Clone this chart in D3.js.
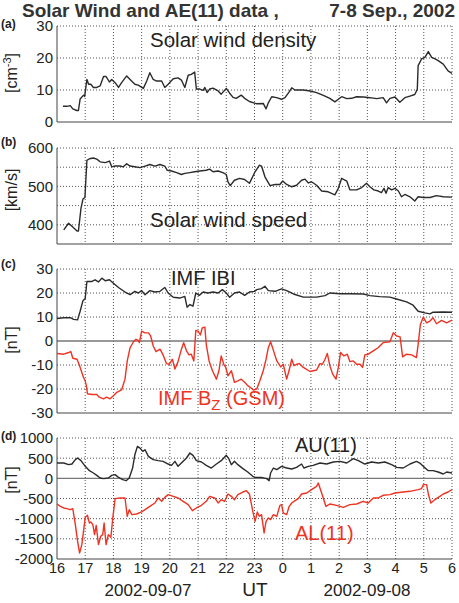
<!DOCTYPE html>
<html>
<head>
<meta charset="utf-8">
<script src="https://cdn.jsdelivr.net/npm/d3@7"></script>
<style>
  body { margin: 0; background: #fff; }
  svg { display: block; font-family: "Liberation Sans", Arial, Helvetica, sans-serif; }
</style>
</head>
<body>
<svg id="chart" width="459" height="603"></svg>
<script>
// DATA  (time in hours UT from 16 on 2002-09-07; 24+ = 2002-09-08)
const hourTicks = [16, 17, 18, 19, 20, 21, 22, 23, 24, 25, 26, 27, 28, 29, 30];

const density = [[16.21,4.9],[16.35,4.9],[16.47,5.1],[16.56,4.1],[16.7,3.6],[16.76,3.6],[16.82,7.2],[16.94,8.4],[16.98,8.0],[17.06,13.3],[17.12,11.8],[17.2,11.8],[17.29,10.8],[17.41,10.8],[17.53,11.3],[17.65,14.2],[17.74,14.2],[17.86,12.5],[17.94,13.3],[18.06,12.3],[18.18,10.8],[18.29,12.3],[18.47,14.4],[18.59,13.3],[18.76,11.8],[18.88,11.5],[19.06,10.5],[19.18,12.8],[19.29,15.4],[19.41,13.3],[19.53,12.8],[19.71,12.8],[19.82,10.8],[19.94,11.8],[20.12,13.5],[20.29,13.8],[20.41,13.1],[20.53,10.8],[20.65,14.6],[20.76,14.9],[20.88,15.6],[20.94,10.3],[21.06,10.3],[21.18,9.9],[21.24,10.8],[21.32,9.2],[21.41,10.3],[21.53,10.6],[21.71,9.7],[21.82,8.7],[22.0,10.5],[22.12,9.0],[22.24,7.7],[22.35,7.4],[22.53,8.4],[22.65,7.4],[22.82,6.4],[23.0,5.9],[23.08,5.7],[23.31,5.8],[23.41,4.1],[23.49,6.0],[23.61,7.9],[23.78,7.6],[23.96,7.1],[24.08,7.6],[24.23,9.4],[24.32,10.7],[24.43,10.0],[24.73,10.0],[24.97,9.7],[25.2,9.2],[25.44,8.3],[25.67,7.4],[25.85,6.3],[25.97,7.1],[26.09,7.9],[26.27,7.3],[26.44,7.4],[26.62,7.9],[26.86,7.8],[27.09,7.6],[27.33,7.3],[27.56,7.6],[27.68,6.0],[27.8,7.4],[27.98,7.8],[28.15,6.2],[28.33,7.6],[28.51,8.1],[28.68,8.6],[28.77,10.2],[28.8,17.6],[28.92,19.7],[29.04,20.2],[29.16,22.0],[29.28,20.2],[29.4,19.7],[29.51,19.2],[29.69,18.1],[29.86,16.0],[30.0,15.2]];

const speed = [[16.24,387],[16.41,404],[16.53,396],[16.71,384],[16.76,384],[16.85,443],[16.92,467],[16.99,471],[17.06,568],[17.15,572],[17.29,574],[17.41,571],[17.53,564],[17.71,562],[17.86,566],[17.94,551],[18.06,553],[18.24,553],[18.35,551],[18.47,559],[18.59,553],[18.76,551],[18.94,549],[19.12,553],[19.29,557],[19.47,553],[19.65,557],[19.82,553],[19.91,542],[20.06,540],[20.24,536],[20.41,531],[20.53,534],[20.71,536],[20.88,538],[21.06,540],[21.29,542],[21.41,545],[21.53,538],[21.71,540],[21.88,536],[22.0,531],[22.06,512],[22.14,502],[22.29,516],[22.47,521],[22.65,518],[22.82,508],[23.02,538],[23.17,555],[23.25,553],[23.37,525],[23.55,502],[23.73,505],[23.9,505],[24.0,514],[24.14,505],[24.32,499],[24.49,503],[24.67,516],[24.79,519],[24.91,509],[25.02,512],[25.2,503],[25.38,488],[25.61,486],[25.85,478],[25.97,495],[26.09,521],[26.27,514],[26.38,491],[26.62,491],[26.8,497],[26.97,508],[27.09,499],[27.23,491],[27.39,488],[27.5,484],[27.59,495],[27.66,482],[27.74,497],[27.86,491],[27.98,495],[28.1,488],[28.21,473],[28.33,479],[28.51,473],[28.68,462],[28.8,473],[28.98,471],[29.22,471],[29.45,476],[29.69,473],[30.0,472]];

const imfB = [[16.0,9.4],[16.24,9.7],[16.47,9.7],[16.59,9.0],[16.73,8.8],[16.82,12.4],[16.92,16.8],[17.0,17.7],[17.06,24.8],[17.24,24.8],[17.35,25.5],[17.47,24.6],[17.59,26.2],[17.71,25.1],[17.86,25.5],[18.0,24.1],[18.18,22.3],[18.41,20.4],[18.59,19.3],[18.76,20.7],[18.88,20.0],[19.0,21.0],[19.12,19.3],[19.29,21.0],[19.47,20.4],[19.65,20.7],[19.82,22.3],[19.94,20.0],[20.12,18.2],[20.35,17.9],[20.53,18.6],[20.61,14.1],[20.71,15.2],[20.82,14.5],[20.92,20.0],[21.04,19.0],[21.18,20.4],[21.35,20.0],[21.53,20.4],[21.71,20.0],[21.86,21.4],[22.0,20.0],[22.12,18.2],[22.29,20.0],[22.47,20.4],[22.65,19.0],[22.82,20.4],[23.0,20.7],[23.08,21.4],[23.25,21.8],[23.37,22.8],[23.49,21.0],[23.73,20.7],[23.96,21.7],[24.14,21.0],[24.38,19.6],[24.73,18.3],[25.2,18.3],[25.5,18.9],[25.67,20.0],[26.03,19.7],[26.38,19.7],[26.86,19.6],[27.09,18.9],[27.44,18.5],[27.8,18.3],[28.03,17.5],[28.39,16.3],[28.62,14.9],[28.8,12.4],[29.04,11.7],[29.22,11.3],[29.33,12.0],[29.69,12.1],[30.0,12.0]];

const imfBz = [[16.0,-5.2],[16.24,-5.5],[16.41,-4.8],[16.49,-4.4],[16.56,-7.2],[16.71,-7.6],[16.8,-10.3],[16.88,-13.1],[16.94,-15.2],[17.0,-16.6],[17.04,-18.6],[17.08,-22.0],[17.24,-22.3],[17.41,-22.3],[17.5,-23.4],[17.65,-24.1],[17.76,-23.4],[17.88,-24.1],[18.0,-22.8],[18.12,-21.4],[18.29,-20.4],[18.41,-15.9],[18.49,-8.3],[18.59,-2.8],[18.71,-0.3],[18.8,0.7],[18.88,0.3],[18.92,-0.7],[19.0,4.1],[19.12,3.4],[19.24,3.4],[19.32,2.1],[19.41,-2.1],[19.51,-4.4],[19.65,-3.4],[19.76,-5.8],[19.88,-9.4],[19.98,-9.7],[20.09,-7.6],[20.18,-11.7],[20.29,-8.6],[20.41,-3.4],[20.49,-0.7],[20.59,-4.1],[20.68,-5.8],[20.76,-5.5],[20.85,-8.3],[20.92,4.4],[21.0,4.1],[21.08,2.5],[21.15,5.5],[21.24,5.8],[21.29,-1.4],[21.39,-8.3],[21.51,-12.4],[21.65,-15.9],[21.74,-12.4],[21.82,-6.2],[21.91,-9.7],[21.98,-11.0],[22.06,-14.5],[22.18,-12.4],[22.29,-17.2],[22.41,-16.6],[22.53,-15.9],[22.65,-17.2],[22.76,-18.6],[22.88,-19.6],[22.96,-20.4],[23.08,-20.0],[23.19,-16.6],[23.31,-12.4],[23.41,-7.6],[23.49,-2.8],[23.57,-0.3],[23.67,-3.9],[23.79,-8.3],[23.93,-10.8],[24.02,-9.7],[24.14,-15.9],[24.23,-12.1],[24.32,-7.6],[24.4,-10.3],[24.49,-9.7],[24.59,-9.4],[24.73,-11.0],[24.97,-12.7],[25.2,-12.1],[25.32,-9.4],[25.41,-9.7],[25.5,-7.6],[25.58,-5.2],[25.67,-10.3],[25.77,-13.8],[25.89,-15.9],[25.97,-11.0],[26.05,-4.8],[26.17,-6.2],[26.29,-5.5],[26.38,-8.6],[26.5,-8.3],[26.62,-9.7],[26.74,-9.7],[26.83,-11.0],[26.91,-5.8],[27.03,-5.5],[27.21,-4.1],[27.38,-2.8],[27.56,-0.7],[27.8,-0.3],[27.92,3.4],[28.04,2.1],[28.16,1.7],[28.25,-6.6],[28.39,-5.5],[28.57,-5.8],[28.74,-6.9],[28.8,-1.4],[28.88,6.9],[28.98,9.9],[29.1,7.6],[29.22,8.3],[29.33,9.7],[29.45,7.2],[29.63,8.6],[29.81,7.6],[30.0,8.7]];

const au = [[16.0,380],[16.24,380],[16.41,339],[16.53,355],[16.65,463],[16.73,504],[16.85,438],[17.0,297],[17.15,190],[17.29,132],[17.41,74],[17.53,8],[17.65,-8],[17.82,8],[17.94,74],[18.06,91],[18.18,25],[18.33,-33],[18.45,-58],[18.56,8],[18.68,256],[18.76,586],[18.85,793],[18.94,751],[19.04,669],[19.12,710],[19.24,545],[19.41,463],[19.59,438],[19.76,421],[19.94,355],[20.06,322],[20.18,421],[20.29,297],[20.41,380],[20.59,504],[20.71,628],[20.82,570],[20.94,438],[21.12,405],[21.29,322],[21.47,256],[21.65,355],[21.82,438],[22.0,570],[22.09,487],[22.18,339],[22.29,421],[22.41,339],[22.59,240],[22.76,157],[22.94,50],[23.02,25],[23.25,25],[23.43,-8],[23.52,-58],[23.57,132],[23.67,256],[23.79,215],[23.96,297],[24.14,256],[24.32,231],[24.49,273],[24.67,355],[24.75,256],[24.91,297],[25.08,322],[25.32,380],[25.56,355],[25.79,405],[26.03,421],[26.27,380],[26.5,487],[26.68,438],[26.91,355],[27.15,405],[27.39,380],[27.62,405],[27.86,339],[28.04,273],[28.27,256],[28.51,355],[28.74,421],[28.86,380],[28.98,297],[29.16,190],[29.33,190],[29.51,157],[29.69,107],[29.81,157],[30.0,132]];

const al = [[16.0,-636],[16.12,-694],[16.24,-735],[16.35,-752],[16.47,-776],[16.56,-752],[16.65,-1148],[16.73,-1561],[16.8,-1850],[16.88,-1644],[16.94,-1313],[17.0,-966],[17.08,-917],[17.15,-1107],[17.2,-1082],[17.27,-1148],[17.33,-1396],[17.39,-1165],[17.47,-1644],[17.55,-1437],[17.62,-1396],[17.67,-1107],[17.74,-1644],[17.82,-1396],[17.91,-1462],[17.98,-966],[18.06,-504],[18.24,-487],[18.41,-487],[18.49,-942],[18.56,-776],[18.65,-900],[18.82,-884],[19.0,-834],[19.12,-776],[19.29,-694],[19.47,-611],[19.59,-487],[19.71,-570],[19.82,-471],[19.94,-405],[20.12,-446],[20.29,-487],[20.47,-570],[20.65,-653],[20.8,-801],[20.94,-735],[21.12,-669],[21.29,-570],[21.41,-446],[21.59,-487],[21.71,-611],[21.82,-529],[21.94,-570],[22.06,-388],[22.18,-446],[22.29,-529],[22.41,-405],[22.59,-339],[22.71,-306],[22.82,-388],[22.94,-818],[23.02,-1066],[23.1,-834],[23.17,-942],[23.25,-900],[23.34,-1355],[23.41,-1066],[23.49,-983],[23.57,-1024],[23.67,-900],[23.79,-942],[23.9,-669],[23.96,-653],[24.02,-859],[24.14,-900],[24.23,-694],[24.32,-611],[24.44,-553],[24.55,-504],[24.67,-388],[24.85,-363],[25.02,-281],[25.2,-198],[25.26,-116],[25.38,-363],[25.53,-694],[25.67,-636],[25.91,-669],[26.15,-719],[26.38,-653],[26.62,-636],[26.85,-570],[27.03,-611],[27.21,-487],[27.39,-487],[27.56,-421],[27.8,-405],[27.98,-363],[28.27,-339],[28.51,-322],[28.8,-281],[28.92,-256],[28.98,-157],[29.1,-157],[29.16,-388],[29.25,-611],[29.39,-529],[29.57,-446],[29.69,-388],[29.86,-339],[30.0,-281]];

// CANVAS SETUP
const svg = d3.select("#chart");
const BLACK = "#2b2b2b", RED = "#ee3322";

const x = d3.scaleLinear().domain([16, 30]).range([57, 452]);

const panels = [
  { id: "a", top: 26, bottom: 122, domain: [0, 30], grid: [10, 20, 30], ticks: [0, 10, 20, 30],
    unit: "[cm", sup: "-3", unitEnd: "]", unitY: 73, labelY: 28, zero: false },
  { id: "b", top: 148, bottom: 244, domain: [350, 600], grid: [400, 450, 500, 550, 600], ticks: [400, 500, 600],
    unit: "[km/s]", unitY: 190, labelY: 146, zero: false },
  { id: "c", top: 269, bottom: 413, domain: [-30, 30], grid: [-20, -10, 10, 20, 30], ticks: [-30, -20, -10, 0, 10, 20, 30],
    unit: "[nT]", unitY: 340, labelY: 268, zero: true },
  { id: "d", top: 438, bottom: 559, domain: [-2000, 1000], grid: [-1500, -1000, -500, 500, 1000], ticks: [-2000, -1500, -1000, -500, 0, 500, 1000],
    unit: "[nT]", unitY: 480, labelY: 440, zero: true }
];

panels.forEach((p) => {
  p.y = d3.scaleLinear().domain(p.domain).range([p.bottom, p.top]);
  const g = svg.append("g").attr("id", "panel-" + p.id);

  // dotted grid
  g.selectAll(".vgrid").data(hourTicks.slice(1)).join("line")
    .attr("x1", (d) => x(d)).attr("x2", (d) => x(d))
    .attr("y1", p.top).attr("y2", p.bottom)
    .attr("stroke", "#555").attr("stroke-width", 1).attr("stroke-dasharray", "1,2");
  g.selectAll(".hgrid").data(p.grid).join("line")
    .attr("x1", x(16)).attr("x2", x(30))
    .attr("y1", (d) => p.y(d)).attr("y2", (d) => p.y(d))
    .attr("stroke", "#555").attr("stroke-width", 1).attr("stroke-dasharray", "1,2");

  if (p.zero) {
    g.append("line")
      .attr("x1", x(16)).attr("x2", x(30))
      .attr("y1", p.y(0)).attr("y2", p.y(0))
      .attr("stroke", "#777").attr("stroke-width", 1.3);
  }

  // left + bottom axis lines
  g.append("path")
    .attr("d", `M${x(16)},${p.top}V${p.bottom}H${x(30)}`)
    .attr("fill", "none").attr("stroke", "#444").attr("stroke-width", 1);

  // y tick labels
  g.selectAll(".ytick").data(p.ticks).join("text")
    .attr("x", 53).attr("y", (d) => p.y(d))
    .attr("dy", "0.36em")
    .attr("text-anchor", "end")
    .attr("font-size", 15)
    .attr("fill", "#222")
    .text((d) => d);

  // unit label
  const u = g.append("text")
    .attr("transform", `translate(17,${p.unitY}) rotate(-90)`)
    .attr("text-anchor", "middle")
    .attr("font-size", 16)
    .attr("fill", "#222")
    .text(p.unit);
  if (p.sup) {
    u.append("tspan").attr("font-size", 11).attr("dy", -6).text(p.sup);
    u.append("tspan").attr("dy", 6).text(p.unitEnd);
  }

  // panel letter
  g.append("text")
    .attr("x", 1).attr("y", p.labelY)
    .attr("font-size", 12).attr("font-weight", "bold")
    .attr("fill", "#222")
    .text(`(${p.id})`);
});

const [pa, pb, pc, pd] = panels;

function drawLine(p, data, color) {
  svg.append("path")
    .datum(data)
    .attr("fill", "none")
    .attr("stroke", color)
    .attr("stroke-width", 1.4)
    .attr("stroke-linejoin", "round")
    .attr("d", d3.line().x((d) => x(d[0])).y((d) => p.y(d[1])));
}

drawLine(pa, density, BLACK);
drawLine(pb, speed, BLACK);
drawLine(pc, imfB, BLACK);
drawLine(pc, imfBz, RED);
drawLine(pd, au, BLACK);
drawLine(pd, al, RED);

// ANNOTATIONS
function note(xp, yp, txt, color, size) {
  return svg.append("text")
    .attr("x", xp).attr("y", yp)
    .attr("font-size", size || 20)
    .attr("fill", color || "#222")
    .text(txt);
}
note(150, 47, "Solar wind density", "#222", 20.5);
note(150, 227, "Solar wind speed", "#222", 20.5);
note(171, 285, "IMF IBI");
const bz = note(158, 405, "IMF B", RED);
bz.append("tspan").attr("font-size", 15).attr("dy", 5).text("Z");
bz.append("tspan").attr("dy", -5).text(" (GSM)");
note(295, 452, "AU(11)");
note(295, 540, "AL(11)", RED);

// x tick labels (bottom panel only)
svg.selectAll(".xtick").data(hourTicks).join("text")
  .attr("x", (d) => x(d)).attr("y", 573)
  .attr("text-anchor", "middle")
  .attr("font-size", 14.5)
  .attr("fill", "#222")
  .text((d) => d % 24);

note(148, 596, "2002-09-07", "#222", 17).attr("text-anchor", "middle");
note(255, 596, "UT", "#222", 19).attr("text-anchor", "middle");
note(367, 596, "2002-09-08", "#222", 17).attr("text-anchor", "middle");

// title
svg.append("text").attr("x", 22).attr("y", 17)
  .attr("font-size", 19).attr("font-weight", "bold").attr("fill", "#333")
  .text("Solar Wind and AE(11) data ,");
svg.append("text").attr("x", 455).attr("y", 17)
  .attr("text-anchor", "end")
  .attr("font-size", 19).attr("font-weight", "bold").attr("fill", "#333")
  .text("7-8 Sep., 2002");
</script>
</body>
</html>
